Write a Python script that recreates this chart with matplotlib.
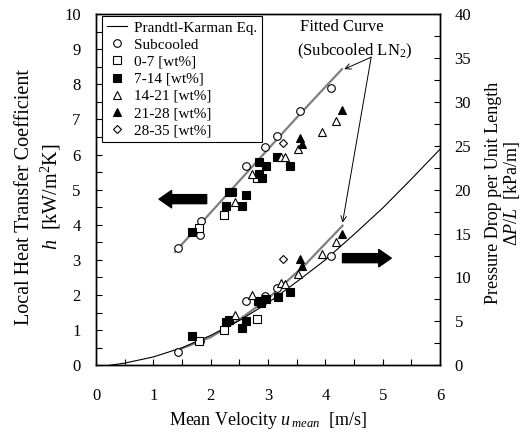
import matplotlib; matplotlib.use('Agg')

import matplotlib.pyplot as plt
from matplotlib.patches import FancyArrowPatch
from matplotlib.ticker import MultipleLocator

plt.rcParams['font.family'] = ['Liberation Serif', 'DejaVu Serif']
plt.rcParams['mathtext.fontset'] = 'custom'
plt.rcParams['mathtext.rm'] = 'Liberation Serif'
plt.rcParams['mathtext.it'] = 'Liberation Serif:italic'

# heat transfer coefficient h [kW/m2K] vs mean velocity [m/s]
sub_u = [1.43, 1.81, 1.84, 2.62, 2.95, 3.16, 3.55, 4.10]
sub_h = [3.35, 3.70, 4.12, 5.68, 6.21, 6.53, 7.24, 7.90]
w07_u = [1.80, 2.23, 2.80]
w07_h = [3.90, 4.28, 5.32]
w714_u = [1.67, 2.26, 2.32, 2.38, 2.54, 2.61, 2.85, 2.96, 2.84, 2.89, 3.15, 3.39]
w714_h = [3.79, 4.53, 4.94, 4.94, 4.53, 4.85, 5.80, 5.67, 5.45, 5.34, 5.92, 5.68]
w1421_u = [2.42, 2.72, 3.22, 3.29, 3.52, 3.95, 4.18]
w1421_h = [4.64, 5.45, 5.94, 5.92, 6.15, 6.65, 6.95]
w2128_u = [3.55, 3.60, 4.29]
w2128_h = [6.48, 6.30, 7.27]
w2835_u = [3.27]
w2835_h = [6.34]

# pressure drop dP/L [kPa/m] vs mean velocity [m/s]
sub_dp_u = [1.43, 1.81, 2.62, 2.94, 3.16, 4.10]
sub_dp = [1.48, 2.77, 7.32, 7.92, 8.84, 12.48]
w07_dp_u = [1.80, 2.23, 2.80]
w07_dp = [2.77, 4.02, 5.27]
w714_dp_u = [1.67, 2.26, 2.32, 2.54, 2.61, 2.83, 2.96, 2.88, 3.17, 3.39]
w714_dp = [3.37, 4.90, 5.16, 4.21, 5.08, 7.36, 7.51, 7.09, 7.81, 8.38]
w1421_dp_u = [2.42, 2.72, 3.22, 3.29, 3.52, 3.95, 4.18]
w1421_dp = [5.73, 8.00, 9.34, 9.22, 10.36, 12.67, 14.00]
w2128_dp_u = [3.55, 3.60, 4.29]
w2128_dp = [12.07, 11.31, 14.95]
w2835_dp_u = [3.27]
w2835_dp = [12.07]

# curves
fit_h_u = [1.38, 3.46, 4.29]
fit_h = [3.23, 6.98, 8.43]
fit_dp_u = [1.43, 2.0, 2.5, 3.0, 3.64, 4.30]
fit_dp = [1.75, 3.2, 5.2, 7.6, 11.4, 15.9]
pk_u = [0.24, 0.5, 1.0, 1.5, 2.0, 2.5, 3.0, 3.5, 4.0, 4.5, 5.0, 5.5, 6.0]
pk_dp = [0.0, 0.25, 0.95, 2.0, 3.4, 5.1, 7.1, 9.5, 12.0, 14.9, 17.9, 21.2, 24.6]

fig = plt.figure(figsize=(5.31, 4.32), dpi=100)
ax = fig.add_axes([0.1808, 0.1544, 0.6478, 0.8132])
ax2 = ax.twinx()

mk = dict(mew=0.8, mec='black', ls='none')
series = [
    ("Subcooled", 'o', 'white', sub_u, sub_h, sub_dp_u, sub_dp),
    ("0-7 [wt%]", 's', 'white', w07_u, w07_h, w07_dp_u, w07_dp),
    ("7-14 [wt%]", 's', 'black', w714_u, w714_h, w714_dp_u, w714_dp),
    ("14-21 [wt%]", '^', 'white', w1421_u, w1421_h, w1421_dp_u, w1421_dp),
    ("21-28 [wt%]", '^', 'black', w2128_u, w2128_h, w2128_dp_u, w2128_dp),
    ("28-35 [wt%]", 'D', 'white', w2835_u, w2835_h, w2835_dp_u, w2835_dp),
]

pk_line, = ax2.plot(pk_u, pk_dp, color='black', lw=0.8, label="Prandtl-Karman Eq.")
ax.plot(fit_h_u, fit_h, color='#7f7f7f', lw=1.6, zorder=1)
ax2.plot(fit_dp_u, fit_dp, color='#7f7f7f', lw=1.6, zorder=1)

handles = [pk_line]
for lab, m, fc, u1, y1, u2, y2 in series:
    ms = 4.5 if m == 'D' else 5.5
    h, = ax.plot(u1, y1, marker=m, mfc=fc, ms=ms, label=lab, **mk)
    ax2.plot(u2, y2, marker=m, mfc=fc, ms=ms, **mk)
    handles.append(h)

ax.set_xlim(0, 6)
ax.set_ylim(0, 10)
ax2.set_ylim(0, 40)
ax.xaxis.set_major_locator(MultipleLocator(1))
ax.xaxis.set_minor_locator(MultipleLocator(0.5))
ax.yaxis.set_major_locator(MultipleLocator(1))
ax.yaxis.set_minor_locator(MultipleLocator(0.5))
ax2.yaxis.set_major_locator(MultipleLocator(5))
ax2.yaxis.set_minor_locator(MultipleLocator(2.5))
ax.tick_params(which='both', direction='in', length=4, width=0.8, labelsize=12, top=False)
ax.tick_params(axis='x', which='major', pad=16)
ax.tick_params(axis='y', which='major', pad=11)
ax2.tick_params(which='both', direction='in', length=4, width=0.8, labelsize=12)
ax2.tick_params(which='major', pad=10.5)
for a in (ax, ax2):
    for s in a.spines.values():
        s.set_linewidth(1.0)

ax.set_xlabel("Mean Velocity $u_{\\,mean}$  [m/s]", fontsize=13, labelpad=5)
ax.set_ylabel("Local Heat Transfer Coefficient\n$h$  [kW/m$^2$K]", fontsize=14.5, linespacing=1.3)
ax.yaxis.set_label_coords(-0.095, 0.48)
ax2.set_ylabel("Pressure Drop per Unit Length\n$\\Delta P/L$  [kPa/m]", fontsize=13, linespacing=1.05)
ax2.yaxis.set_label_coords(1.13, 0.49)

leg = ax.legend(handles=handles, loc='upper left', bbox_to_anchor=(0.018, 0.993),
                borderaxespad=0, fontsize=11, numpoints=1, handlelength=1.3,
                handletextpad=0.5, labelspacing=0.22, borderpad=0.3,
                fancybox=False, framealpha=1, edgecolor='black')
leg.get_frame().set_linewidth(0.8)

# block arrows pointing to the matching axis
for tail, head in [((1.93, 4.73), (1.10, 4.73)), ((4.30, 3.05), (5.15, 3.05))]:
    ax.add_patch(FancyArrowPatch(tail, head, arrowstyle="simple,head_length=0.9,head_width=1.25,tail_width=0.65",
                                 mutation_scale=10, color='black', shrinkA=0, shrinkB=0, zorder=5))

ax.text(3.56, 9.63, "Fitted Curve", fontsize=12, ha='left', va='center')
ax.text(3.50, 8.93, "(Subcooled LN$_2$)", fontsize=12, ha='left', va='center')
for tgt in [(4.33, 8.43), (4.30, 4.06)]:
    ax.annotate("", xy=tgt, xytext=(4.80, 8.77),
                arrowprops=dict(arrowstyle='->', lw=0.7, color='black', shrinkA=0, shrinkB=0))

fig.savefig("out.png", dpi=100)
